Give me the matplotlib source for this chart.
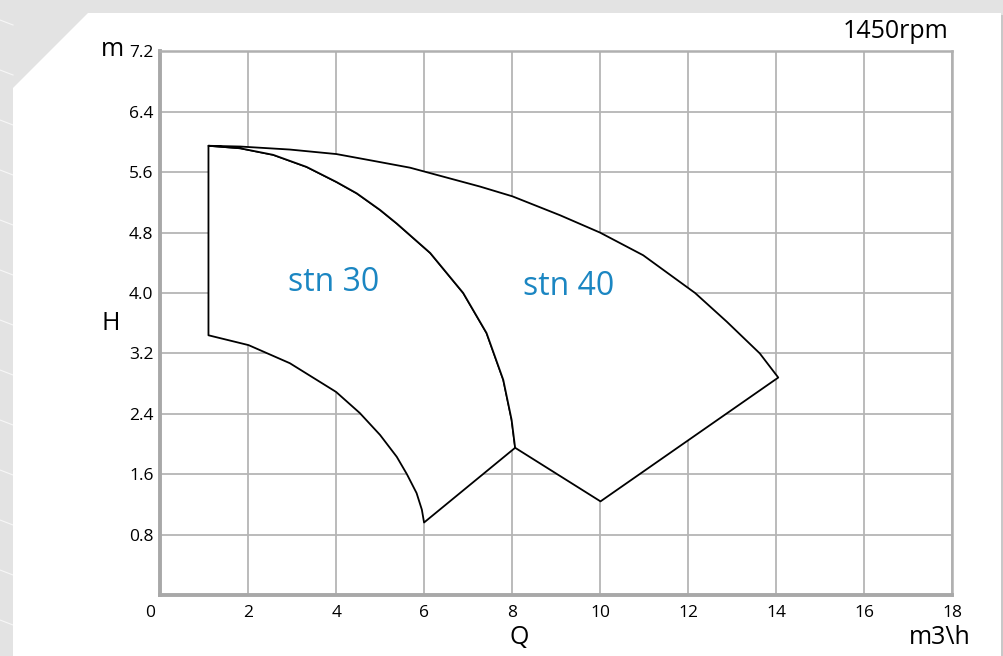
import numpy as np
import matplotlib
matplotlib.use("Agg")
import matplotlib.pyplot as plt
from matplotlib.patches import Polygon
from matplotlib.transforms import ScaledTranslation

plt.rcParams["font.family"] = ["Open Sans", "DejaVu Sans"]

# curve points (Q in m3/h, H in m)
top_q, top_h = 1.09, 5.95

# boundary between stn 30 and stn 40
inner_q = [1.09, 1.81, 2.56, 3.32, 4.0, 4.46, 4.99, 5.37, 6.13, 6.88, 7.41, 7.79, 7.98, 8.06]
inner_h = [5.95, 5.917, 5.83, 5.67, 5.47, 5.32, 5.10, 4.92, 4.53, 4.0, 3.47, 2.85, 2.32, 1.95]

# stn 30 lower curve (smallest impeller)
low_q = [1.09, 2.0, 2.94, 3.99, 4.53, 4.99, 5.37, 5.60, 5.82, 5.94, 5.99]
low_h = [3.44, 3.31, 3.07, 2.69, 2.41, 2.12, 1.83, 1.60, 1.35, 1.13, 0.96]

# stn 40 outer curve
outer_q = [1.09, 1.81, 2.94, 4.0, 4.84, 5.67, 7.26, 8.0, 9.08, 9.99, 10.97, 12.15, 12.87, 13.62, 14.04]
outer_h = [5.95, 5.94, 5.90, 5.84, 5.75, 5.66, 5.41, 5.28, 5.03, 4.80, 4.50, 4.0, 3.62, 3.2, 2.88]

# bottom limit line of stn 40
v_q = [14.04, 10.0, 8.06]
v_h = [2.88, 1.24, 1.95]

labels = ["stn 30", "stn 40"]
label_q = [3.93, 9.27]
label_h = [4.14, 4.08]

xticks = np.arange(0, 19, 2)
yticks = np.arange(1, 10) * 0.8

fig = plt.figure(figsize=(10.04, 6.56), dpi=100, facecolor="#e3e3e3")

# white panel with cut corner
W, H = 1004, 656
panel = [(13, 656), (13, 88), (88, 13), (1001, 13), (1001, 656)]
shadow = [(x + 2, y + 2) for x, y in panel]
fig.patches.append(Polygon([(x / W, 1 - y / H) for x, y in shadow], closed=True,
                           transform=fig.transFigure, facecolor="#c8c8c8",
                           edgecolor="none", zorder=-3))
fig.patches.append(Polygon([(x / W, 1 - y / H) for x, y in panel], closed=True,
                           transform=fig.transFigure, facecolor="white",
                           edgecolor="none", zorder=-2))
# faint stripes on the gray border
for i in range(13):
    y0 = 20 + i * 50
    fig.add_artist(plt.Line2D([0, 13 / W], [1 - y0 / H, 1 - (y0 + 5) / H],
                              transform=fig.transFigure, color="white", lw=0.8,
                              alpha=0.7, zorder=-1))

ax = fig.add_axes([160.5 / W, 1 - 595 / H, 792 / W, 543.6 / H])
ax.set_zorder(1)
ax.set_facecolor("white")
ax.set_xlim(0, 18)
ax.set_ylim(0, 7.2)
ax.set_xticks(xticks)
ax.set_yticks(yticks)
ax.set_xticklabels([str(v) for v in xticks])
ax.set_yticklabels([f"{v:.1f}" for v in yticks])
ax.tick_params(length=0, labelsize=12.5, pad=5, colors="black")
ax.tick_params(axis="x", pad=7)
ax.grid(True, color="#b5b5b5", lw=1.3)
ax.set_axisbelow(True)
for side in ["left", "bottom"]:
    ax.spines[side].set_color("#a8a8a8")
    ax.spines[side].set_linewidth(2.8)
for side in ["top", "right"]:
    ax.spines[side].set_color("#b0b0b0")
    ax.spines[side].set_linewidth(1.8)

# shift the "0" label a little to the left like the original
lbl0 = ax.get_xticklabels()[0]
lbl0.set_transform(lbl0.get_transform() + ScaledTranslation(-0.1, 0, fig.dpi_scale_trans))

# stn 30 region
q30 = [top_q] + low_q + v_q[2:] + inner_q[::-1]
h30 = [top_h] + low_h + v_h[2:] + inner_h[::-1]
ax.add_patch(Polygon(np.column_stack([q30, h30]), closed=True, facecolor="white",
                     edgecolor="black", lw=1.3, joinstyle="round", zorder=3))

# stn 40 region
q40 = outer_q + v_q + inner_q[::-1]
h40 = outer_h + v_h + inner_h[::-1]
ax.add_patch(Polygon(np.column_stack([q40, h40]), closed=True, facecolor="white",
                     edgecolor="black", lw=1.3, joinstyle="round", zorder=3))

for t, q, h in zip(labels, label_q, label_h):
    ax.text(q, h, t, color="#1b86c2", fontsize=23, ha="center", va="center", zorder=4)

fig.text(112 / W, 1 - 50 / H, "m", fontsize=18, ha="center", va="center")
fig.text(111 / W, 1 - 323 / H, "H", fontsize=18, ha="center", va="center")
fig.text(519 / W, 1 - 637 / H, "Q", fontsize=18, ha="center", va="center")
fig.text(940 / W, 1 - 637 / H, "m3\\h", fontsize=18, ha="center", va="center")
fig.text(948 / W, 1 - 32 / H, "1450rpm", fontsize=18, ha="right", va="center")

fig.savefig("out.png", dpi=100, facecolor=fig.get_facecolor())
